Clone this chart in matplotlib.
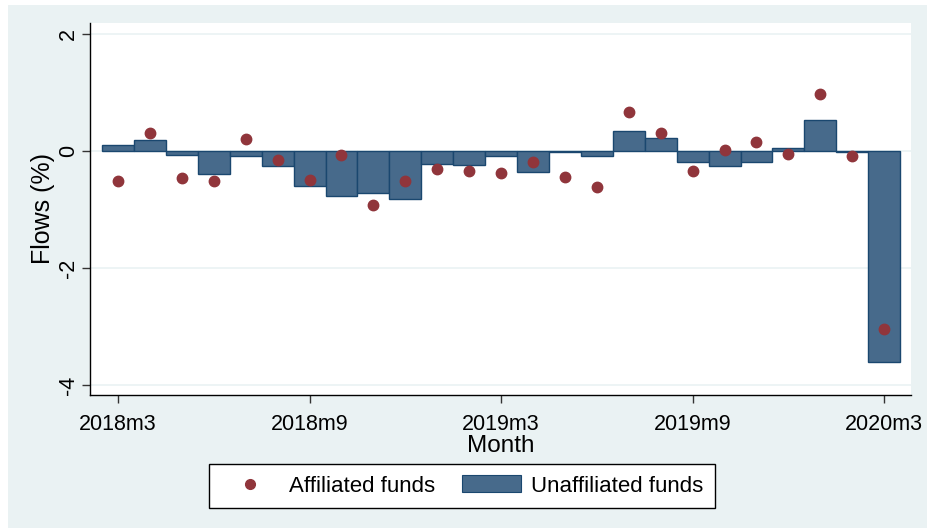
import numpy as np
import matplotlib
matplotlib.use("Agg")
import matplotlib.pyplot as plt
from matplotlib.patches import Rectangle, Patch
from matplotlib.lines import Line2D

plt.rcParams['font.family'] = ['Liberation Sans', 'DejaVu Sans']

# monthly flows, 2018m3 .. 2020m3
months = ['2018m3', '2018m4', '2018m5', '2018m6', '2018m7', '2018m8', '2018m9',
          '2018m10', '2018m11', '2018m12', '2019m1', '2019m2', '2019m3',
          '2019m4', '2019m5', '2019m6', '2019m7', '2019m8', '2019m9',
          '2019m10', '2019m11', '2019m12', '2020m1', '2020m2', '2020m3']
unaffiliated = [0.10, 0.19, -0.07, -0.40, -0.08, -0.26, -0.59, -0.77, -0.71,
                -0.82, -0.23, -0.24, -0.09, -0.36, -0.01, -0.09, 0.35, 0.22,
                -0.18, -0.26, -0.18, 0.05, 0.53, -0.02, -3.60]
affiliated = [-0.52, 0.31, -0.47, -0.51, 0.20, -0.16, -0.50, -0.06, -0.92,
              -0.52, -0.31, -0.35, -0.37, -0.19, -0.44, -0.61, 0.66, 0.30,
              -0.35, 0.02, 0.15, -0.05, 0.97, -0.08, -3.05]
tick_months = ['2018m3', '2018m9', '2019m3', '2019m9', '2020m3']
y_ticks = [2, 0, -2, -4]

bg = '#EAF2F3'
bar_fill = '#476A8B'
bar_edge = '#1A476F'
dot_col = '#90353B'

fig = plt.figure(figsize=(9.28, 5.29), dpi=100, facecolor='white')
fig.patches.append(Rectangle((8 / 928, 1 / 529), 1 - 8 / 928, 523 / 529,
                             transform=fig.transFigure, facecolor=bg,
                             edgecolor='none', zorder=-10))

ax = fig.add_axes([90 / 928, 1 - 395 / 529, 821 / 928, 372 / 529])
ax.set_facecolor('white')

x = np.arange(len(months))
ax.bar(x, unaffiliated, width=1.0, color=bar_fill, edgecolor=bar_edge,
       linewidth=1.0, zorder=2)
ax.plot(x, affiliated, 'o', color=dot_col, markersize=7.5, zorder=3)

ax.set_xlim(-0.877, 24.84)
ax.set_ylim(-4.171, 2.188)

for v in y_ticks:
    ax.axhline(v, color=bg, lw=1.2, zorder=1)

ax.set_yticks(y_ticks)
ax.set_yticklabels([str(v) for v in y_ticks], rotation=90, va='center')
ax.set_xticks([months.index(m) for m in tick_months])
ax.set_xticklabels(tick_months)
ax.tick_params(axis='both', labelsize=15.5, length=6, width=1, color='#333333')
ax.tick_params(axis='x', pad=8)
ax.tick_params(axis='y', pad=2)

for s in ['top', 'right']:
    ax.spines[s].set_visible(False)
for s in ['left', 'bottom']:
    ax.spines[s].set_color('black')
    ax.spines[s].set_linewidth(1.0)

ax.set_ylabel('Flows (%)', fontsize=18)
ax.yaxis.set_label_coords(-0.0426, 0.5)
ax.set_xlabel('Month', fontsize=17.5, labelpad=0)

handles = [Line2D([], [], marker='o', ls='none', color=dot_col, markersize=7),
           Patch(facecolor=bar_fill, edgecolor=bar_edge, linewidth=0.8)]
leg = fig.legend(handles, ['Affiliated funds', 'Unaffiliated funds'],
                 loc='center', bbox_to_anchor=(462 / 928, 1 - 486 / 529),
                 ncol=2, fontsize=16, frameon=True, fancybox=False,
                 edgecolor='black', framealpha=1, handlelength=2.65,
                 handleheight=0.8, handletextpad=0.45, columnspacing=1.2,
                 borderpad=0.5)
leg.get_frame().set_linewidth(1.0)

fig.savefig('out.png', dpi=100, facecolor=fig.get_facecolor())
